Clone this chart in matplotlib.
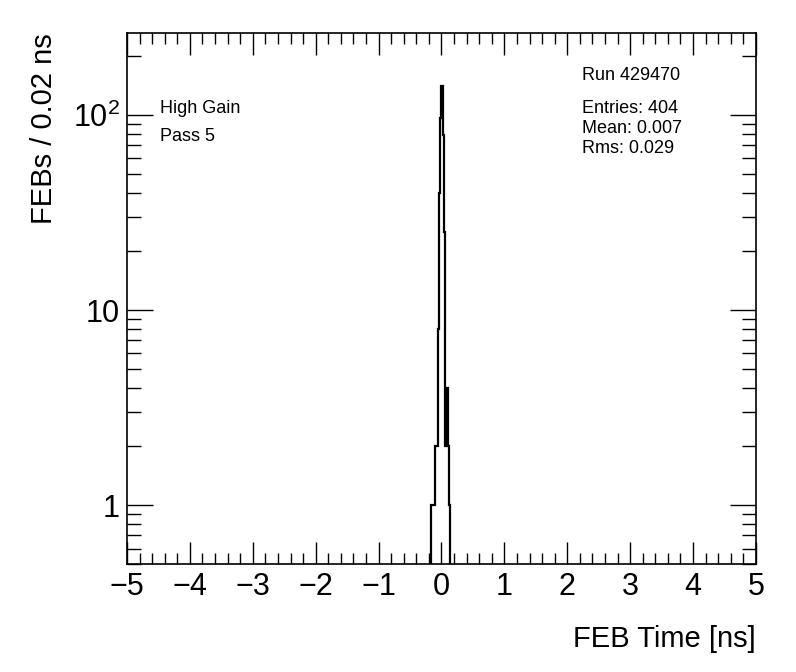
import numpy as np
import matplotlib
matplotlib.use("Agg")
import matplotlib.pyplot as plt
from matplotlib.ticker import FixedLocator, FixedFormatter, MultipleLocator

plt.rcParams['font.family'] = ['Liberation Sans', 'DejaVu Sans']
plt.rcParams['mathtext.fontset'] = 'custom'
plt.rcParams['mathtext.rm'] = 'Liberation Sans'

# FEB time histogram, 0.02 ns bins (only non-empty range)
bin_low = -0.16
bin_width = 0.02
counts = [1, 1, 1, 2, 2, 8, 40, 96, 140, 79, 25, 2, 4, 2, 1]

run_text = "Run 429470"
stats_text = ["Entries: 404", "Mean: 0.007", "Rms: 0.029"]
label_text = ["High Gain", "Pass 5"]

edges = bin_low + bin_width * np.arange(len(counts) + 1)

fig = plt.figure(figsize=(7.96, 6.72), dpi=100)
ax = fig.add_axes([0.1595, 0.1607, 0.7902, 0.7903])

ax.stairs(counts, edges, baseline=0.01, color='black', linewidth=1.6)

ax.set_yscale('log')
ax.set_xlim(-5, 5)
ax.set_ylim(0.5, 263)

ax.xaxis.set_major_locator(MultipleLocator(1))
ax.xaxis.set_minor_locator(MultipleLocator(0.2))
ax.yaxis.set_major_locator(FixedLocator([1, 10, 100]))
ax.yaxis.set_major_formatter(FixedFormatter(['1', '10', '$10^{2}$']))
minors = [m * 10.0**d for d in (-1, 0, 1, 2) for m in range(2, 10)]
ax.yaxis.set_minor_locator(FixedLocator(minors))
ax.yaxis.set_minor_formatter(FixedFormatter([''] * len(minors)))

ax.tick_params(axis='both', which='both', direction='in', top=True, right=True,
               width=1.0, colors='black')
ax.tick_params(axis='x', which='major', length=16, labelsize=22, pad=6)
ax.tick_params(axis='x', which='minor', length=8)
ax.tick_params(axis='y', which='major', length=19, labelsize=22, pad=5)
ax.tick_params(axis='y', which='minor', length=10)
for s in ax.spines.values():
    s.set_linewidth(1.2)

ax.set_xlabel("FEB Time [ns]", fontsize=21, loc='right', labelpad=16)
ax.set_ylabel("FEBs / 0.02 ns", fontsize=21, loc='top', labelpad=11)

ax.text(0.0525, 0.858, label_text[0], transform=ax.transAxes, fontsize=13, va='center')
ax.text(0.0525, 0.805, label_text[1], transform=ax.transAxes, fontsize=13, va='center')
ax.text(0.723, 0.92, run_text, transform=ax.transAxes, fontsize=13, va='center')
for i, t in enumerate(stats_text):
    ax.text(0.723, 0.858 - i * 0.0377, t, transform=ax.transAxes, fontsize=13, va='center')

fig.savefig("out.png", dpi=100)
